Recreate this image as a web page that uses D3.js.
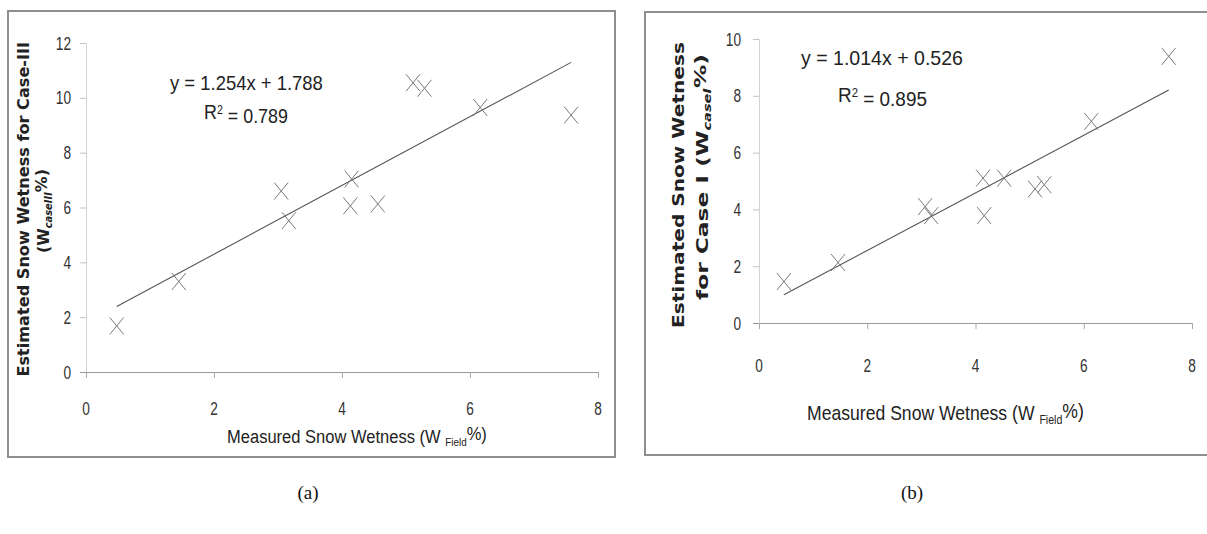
<!DOCTYPE html>
<html>
<head>
<meta charset="utf-8">
<script src="https://cdn.jsdelivr.net/npm/d3@7"></script>
<style>
  body { margin: 0; background: #fff; }
  svg { display: block; }
</style>
</head>
<body>
<svg id="chart" width="1207" height="534"></svg>
<script>
// Case-III (a)
const measuredA = [0.48, 1.45, 3.05, 3.17, 4.15, 4.13, 4.56, 5.11, 5.29, 6.16, 7.58];
const estimatedA = [1.68, 3.3, 6.6, 5.52, 7.04, 6.06, 6.13, 10.55, 10.35, 9.65, 9.37];
const fitA = { slope: 1.254, intercept: 1.788, r2: "0.789" };
const yTicksA = [0, 2, 4, 6, 8, 10, 12];

// Case-I (b)
const measuredB = [0.46, 1.46, 3.07, 3.18, 4.14, 4.16, 4.53, 5.1, 5.27, 6.14, 7.57];
const estimatedB = [1.46, 2.13, 4.1, 3.78, 5.1, 3.78, 5.1, 4.72, 4.87, 7.1, 9.39];
const fitB = { slope: 1.014, intercept: 0.526, r2: "0.895" };
const yTicksB = [0, 2, 4, 6, 8, 10];

const xTicks = [0, 2, 4, 6, 8];

const FONT = "'Liberation Sans', Arial, sans-serif";
const svg = d3.select("#chart");

// text squeezed horizontally, like the narrow font of the original
function narrow(g, x, y, size, anchor, sx) {
	return g.append("text")
		.attr("transform", `translate(${x},${y}) scale(${sx},1)`)
		.attr("dy", "0.35em").attr("text-anchor", anchor)
		.attr("font-family", FONT).attr("font-size", size).attr("fill", "#333");
}

// squeeze a text (drawn at origin, start-anchored) so it spans `len` px from (x,y)
function fitTo(t, x, y, len, rotate) {
	const w = t.node().getComputedTextLength();
	const s = len / w;
	if (rotate) t.attr("transform", `translate(${x},${y}) rotate(-90) translate(${-len / 2},0) scale(${s},1)`);
	else t.attr("transform", `translate(${x},${y}) scale(${s},1)`);
}

function drawPanel(cfg) {
	const g = svg.append("g");

	// frame
	g.append("rect")
		.attr("x", cfg.box[0]).attr("y", cfg.box[1])
		.attr("width", cfg.box[2]).attr("height", cfg.box[3])
		.attr("fill", "none").attr("stroke", "#8e8e8e").attr("stroke-width", 2);

	const x = d3.scaleLinear().domain([0, 8]).range(cfg.xRange);
	const y = d3.scaleLinear().domain([0, d3.max(cfg.yTicks)]).range(cfg.yRange);

	// y axis
	const yAxis = g.append("g")
		.attr("transform", `translate(${cfg.xRange[0]},0)`)
		.call(d3.axisLeft(y).tickValues(cfg.yTicks).tickSize(6).tickFormat(""));
	yAxis.select(".domain").attr("stroke", "#d4d4d4");
	yAxis.selectAll(".tick line").attr("stroke", "#c4c4c4");

	// x axis
	const xAxis = g.append("g")
		.attr("transform", `translate(0,${cfg.yRange[0]})`)
		.call(d3.axisBottom(x).tickValues(xTicks).tickSize(6).tickSizeOuter(0).tickFormat(""));
	xAxis.select(".domain").attr("stroke", "#9a9a9a").attr("d", `M${cfg.xRange[0] - 6},0.5H${cfg.xRange[1]}`);
	xAxis.selectAll(".tick line").attr("stroke", "#a8a8a8");

	// tick labels
	cfg.yTicks.forEach(d => narrow(g, cfg.yLabelX, y(d), 19, "end", 0.72).text(d));
	xTicks.forEach(d => narrow(g, x(d), cfg.xLabelY, 19, "middle", 0.72).text(d));

	// trendline over the data range
	const [x0, x1] = d3.extent(cfg.xs);
	g.append("line")
		.attr("x1", x(x0)).attr("y1", y(cfg.fit.slope * x0 + cfg.fit.intercept))
		.attr("x2", x(x1)).attr("y2", y(cfg.fit.slope * x1 + cfg.fit.intercept))
		.attr("stroke", "#555").attr("stroke-width", 1.1);

	// X markers
	const pts = cfg.xs.map((v, i) => [v, cfg.ys[i]]);
	g.selectAll(".pt").data(pts).enter().append("path")
		.attr("d", d => {
			const px = x(d[0]), py = y(d[1]);
			return `M${px - 7},${py - 8.5}L${px + 7},${py + 8.5}M${px - 7},${py + 8.5}L${px + 7},${py - 8.5}`;
		})
		.attr("stroke", "#7a7a7a").attr("stroke-width", 1).attr("fill", "none");

	// equation
	const eq = g.append("text")
		.attr("dy", "0.35em")
		.attr("font-family", FONT).attr("font-size", cfg.eqSize).attr("fill", "#222")
		.text(`y = ${cfg.fit.slope}x + ${cfg.fit.intercept}`);
	fitTo(eq, cfg.eq[0], cfg.eq[1], cfg.eq[2]);
	const r = g.append("text")
		.attr("dy", "0.35em")
		.attr("font-family", FONT).attr("font-size", cfg.eqSize).attr("fill", "#222");
	r.append("tspan").text("R");
	r.append("tspan").attr("dy", "-0.45em").attr("font-size", cfg.eqSize * 0.6).text("2");
	r.append("tspan").attr("dy", "0.45em").text(` = ${cfg.fit.r2}`);
	fitTo(r, cfg.r2[0], cfg.r2[1], cfg.r2[2]);

	// x axis title
	const xt = g.append("text")
		.attr("dy", "0.35em")
		.attr("font-family", FONT).attr("font-size", cfg.xTitleSize).attr("fill", "#222");
	xt.append("tspan").text("Measured Snow Wetness (W ");
	xt.append("tspan").attr("font-size", cfg.xTitleSize * 0.6).attr("dy", "0.3em").text("Field");
	xt.append("tspan").attr("dy", "-0.3em").text("%)");
	fitTo(xt, cfg.xTitle[0], cfg.xTitle[1], cfg.xTitle[2]);

	// y axis title, rotated
	cfg.yTitle.forEach(line => {
		const t = g.append("text")
			.attr("dy", "0.35em")
			.attr("font-family", "'DejaVu Sans', 'Open Sans', sans-serif")
			.attr("font-weight", "bold").attr("font-size", 16).attr("fill", "#222");
		line.parts.forEach(p => {
			const s = t.append("tspan").text(p.t);
			if (p.sub) s.attr("font-size", 10).attr("font-style", "italic").attr("dy", "0.3em");
			if (p.up) s.attr("dy", "-0.3em");
		});
		fitTo(t, line.x, line.y, line.len, true);
	});

	// caption
	svg.append("text")
		.attr("x", cfg.caption[0]).attr("y", cfg.caption[1])
		.attr("text-anchor", "middle")
		.attr("font-family", "'Liberation Serif', 'Times New Roman', serif")
		.attr("font-size", 19).attr("fill", "#111")
		.text(cfg.caption[2]);
}

drawPanel({
	box: [8, 11, 607, 446],
	xRange: [86, 598], yRange: [372, 43],
	yTicks: yTicksA, xs: measuredA, ys: estimatedA, fit: fitA,
	yLabelX: 71, xLabelY: 408,
	eq: [170, 83, 153], r2: [204, 112, 84], eqSize: 20,
	xTitle: [227, 436, 260], xTitleSize: 19,
	yTitle: [
		{ x: 23, y: 209, len: 335, parts: [{ t: "Estimated Snow  Wetness for Case-III" }] },
		{ x: 43, y: 211, len: 84, parts: [{ t: "(W" }, { t: "caseIII", sub: true }, { t: "%)", up: true }] }
	],
	caption: [308, 499, "(a)"]
});

drawPanel({
	box: [645, 12, 580, 443],
	xRange: [759, 1192], yRange: [323, 39],
	yTicks: yTicksB, xs: measuredB, ys: estimatedB, fit: fitB,
	yLabelX: 741, xLabelY: 365,
	eq: [801, 58, 162], r2: [838, 95, 89], eqSize: 21,
	xTitle: [807, 413, 277], xTitleSize: 20,
	yTitle: [
		{ x: 678, y: 185, len: 286, parts: [{ t: "Estimated Snow  Wetness" }] },
		{ x: 702, y: 177, len: 246, parts: [{ t: "for Case I (W" }, { t: "caseI", sub: true }, { t: "%)", up: true }] }
	],
	caption: [912, 499, "(b)"]
});
</script>
</body>
</html>
